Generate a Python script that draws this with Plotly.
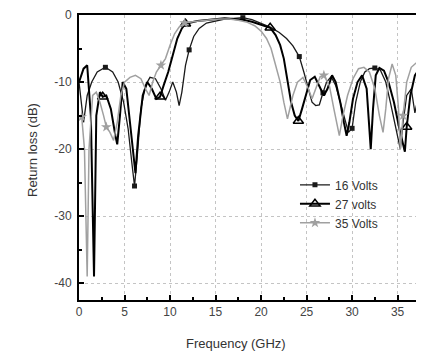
import plotly.graph_objects as go

# ---------------- data ----------------
f16 = [0.0, 0.5, 0.9, 1.4, 2.0, 2.9, 3.7, 4.3, 4.9, 5.4, 5.8, 6.1, 6.4, 6.8, 7.3, 7.8,
       8.4, 9.0, 9.5, 9.9, 10.3, 10.7, 11.0, 11.3, 11.7, 12.1, 12.6, 13.2, 14.0, 15.0,
       16.0, 17.0, 18.0, 19.0, 20.0, 21.0, 22.0, 22.8, 23.5, 24.2, 24.7, 25.2, 25.6,
       26.0, 26.4, 26.8, 27.2, 27.7, 28.2, 28.7, 29.2, 29.6, 30.0, 30.4, 30.9, 31.4,
       31.9, 32.5, 33.1, 33.7, 34.2, 34.8, 35.3, 35.6, 36.0, 36.5, 36.9, 37.3, 37.9]
rl16 = [-10.0, -16.0, -12.0, -10.0, -8.5, -7.8, -8.5, -10.0, -13.0, -17.0, -22.0, -25.5,
        -21.0, -14.0, -10.5, -9.3, -9.5, -11.0, -12.7, -11.5, -10.0, -11.5, -13.5, -11.5,
        -7.5, -5.2, -3.2, -2.0, -1.2, -0.9, -0.6, -0.5, -0.4, -0.7, -1.2, -1.8, -2.6,
        -3.5, -4.6, -6.2, -8.5, -11.0, -13.0, -13.5, -13.4, -11.6, -10.0, -9.2, -10.5,
        -13.0, -15.5, -17.5, -16.9, -13.0, -10.0, -8.5, -8.0, -7.9, -8.2, -10.0, -13.0,
        -17.0, -20.0, -16.0, -12.0, -11.0, -14.6, -12.0, -10.0]
mk16 = [2.9, 6.1, 12.1, 18.0, 24.2, 26.8, 30.0, 32.5]

f27 = [0.0, 0.5, 0.9, 1.3, 1.65, 1.9, 2.3, 2.6, 3.0, 3.5, 4.0, 4.2, 4.5, 4.8, 5.2, 5.6,
       6.0, 6.2, 6.5, 7.0, 7.5, 8.0, 8.5, 8.9, 9.3, 9.8, 10.3, 10.8, 11.3, 11.7, 13.0,
       14.0, 15.0, 16.0, 17.0, 18.0, 19.0, 20.0, 21.0, 21.6, 22.1, 22.5, 22.9, 23.3,
       23.7, 24.1, 24.5, 25.0, 25.4, 25.9, 26.4, 26.9, 27.3, 27.8, 28.2, 28.7, 29.1,
       29.4, 29.7, 30.1, 30.6, 31.1, 31.6, 31.9, 32.05, 32.3, 32.6, 33.0, 33.5, 34.0,
       34.6, 35.2, 35.8, 36.0, 36.4, 36.9, 37.3, 37.9]
rl27 = [-10.0, -8.0, -7.5, -15.0, -39.0, -15.0, -11.5, -12.2, -12.0, -14.0, -18.0, -19.3,
        -15.0, -10.0, -11.0, -16.0, -22.0, -23.6, -18.0, -12.0, -10.0, -11.0, -12.5,
        -12.2, -10.5, -8.5, -6.0, -3.5, -2.0, -1.3, -0.9, -0.8, -0.6, -0.5, -0.6, -0.7,
        -1.0, -1.4, -1.9, -3.0, -4.5, -6.5, -10.0, -13.0, -15.0, -15.8, -14.0, -11.5,
        -9.7, -9.2, -10.5, -12.0, -11.0, -9.0, -10.0, -13.0, -16.0, -18.0, -16.0, -12.5,
        -10.0, -9.0, -11.0, -17.0, -20.0, -14.0, -9.0, -7.9, -8.3, -10.0, -13.0, -17.0,
        -20.4, -16.7, -12.0, -9.0, -8.2, -9.0]
mk27 = [2.6, 8.9, 11.7, 21.0, 24.1, 36.0]

f35 = [0.0, 0.3, 0.6, 0.9, 1.1, 1.5, 1.9, 2.3, 2.7, 3.0, 3.4, 3.8, 4.2, 4.6, 5.0, 5.6,
       6.2, 6.8, 7.3, 7.7, 8.1, 8.5, 9.0, 9.5, 10.0, 10.5, 11.0, 11.6, 12.5, 13.5, 14.5,
       15.5, 16.5, 17.5, 18.5, 19.3, 20.0, 20.6, 21.1, 21.6, 22.1, 22.5, 22.9, 23.5,
       24.0, 24.6, 25.2, 25.6, 26.0, 26.5, 26.9, 27.5, 28.0, 28.6, 29.0, 29.5, 30.1,
       30.7, 31.3, 31.9, 32.5, 33.0, 33.4, 33.7, 34.0, 34.4, 34.8, 35.1, 35.3, 35.6,
       36.0, 36.5, 37.0, 37.5, 37.9]
rl35 = [-15.0, -15.2, -20.0, -39.0, -20.0, -12.0, -11.5, -13.0, -15.0, -16.7, -17.5,
        -18.7, -16.0, -12.0, -10.0, -9.3, -9.0, -9.5, -11.0, -12.0, -10.0, -8.5, -7.5,
        -6.5, -4.5, -2.8, -1.8, -1.2, -1.0, -0.8, -0.7, -0.6, -0.6, -0.8, -1.1, -1.6,
        -2.4, -3.5, -5.0, -7.5, -10.0, -13.0, -15.5, -12.0, -10.0, -9.3, -11.0, -12.5,
        -11.0, -9.2, -9.0, -10.5, -14.0, -18.0, -15.0, -12.0, -9.5, -8.0, -7.8, -8.5,
        -11.0, -15.0, -17.5, -14.0, -9.5, -7.3, -9.0, -14.0, -20.0, -15.0, -10.0, -7.8,
        -7.2, -7.3, -8.0]
mk35 = [0.3, 3.0, 9.0, 11.6, 26.9, 35.6]

x_ticks = [0, 5, 10, 15, 20, 25, 30, 35]
x_ticklabels = ["0", "5", "10", "15", "20", "25", "30", "35"]
y_ticks = [0, -10, -20, -30, -40]
y_ticklabels = ["0", "-10", "-20", "-30", "-40"]

names = ["16 Volts", "27 volts", "35 Volts"]

# ---------------- figure ----------------
FONT = "Liberation Sans, Arial, sans-serif"
fig = go.Figure()


def add_series(fx, fy, marks, name, color, lw, symbol, msize, mline):
    sel = [i for i, v in enumerate(fx) if v in marks]
    fig.add_trace(go.Scatter(
        x=fx, y=fy, name=name, mode="lines+markers",
        line=dict(color=color, width=lw),
        marker=dict(symbol=symbol, size=msize, color=color,
                    line=dict(color=color, width=mline)),
        selectedpoints=sel,
        selected=dict(marker=dict(opacity=1)),
        unselected=dict(marker=dict(opacity=0)),
    ))


add_series(f16, rl16, mk16, names[0], "#1a1a1a", 1.3, "square", 5, 0)
add_series(f27, rl27, mk27, names[1], "#000000", 2.0, "triangle-up-open", 9, 1.5)
add_series(f35, rl35, mk35, names[2], "#a0a0a0", 1.5, "star", 8, 0)

# page body has an 8px offset, so the figure is 8px smaller than the window
OFF = 8
W, H = 424 - OFF, 354 - OFF
L, R, T, B = 79 - OFF, 0, 15 - OFF, 54
PW, PH = W - L - R, H - T - B

fig.update_layout(
    width=W, height=H,
    margin=dict(l=L, r=R, t=T, b=B),
    paper_bgcolor="white", plot_bgcolor="white",
    font=dict(family=FONT, size=12, color="#333333"),
    showlegend=True,
    legend=dict(x=0.626, y=0.455, xanchor="left", yanchor="top",
                bgcolor="rgba(0,0,0,0)", font=dict(size=12, color="#333333"),
                itemwidth=30, tracegroupgap=0),
    xaxis=dict(range=[0, 37.9], tickvals=x_ticks, ticktext=x_ticklabels,
               ticks="inside", ticklen=5, tickwidth=1.5, tickcolor="#000",
               showline=True, linecolor="#000", linewidth=2, mirror=True,
               showgrid=True, gridcolor="#c4c4c4", griddash="dot", gridwidth=1,
               zeroline=False, tickfont=dict(size=12, color="#444"),
               minor=dict(dtick=2.5, tick0=0, ticks="inside", ticklen=3,
                          tickcolor="#000", showgrid=False)),
    yaxis=dict(range=[-42.5, 0], tickvals=y_ticks, ticktext=y_ticklabels,
               ticks="inside", ticklen=5, tickwidth=1.5, tickcolor="#000",
               showline=True, linecolor="#000", linewidth=2, mirror=False,
               showgrid=True, gridcolor="#c4c4c4", griddash="dot", gridwidth=1,
               zeroline=False, tickfont=dict(size=12, color="#444"),
               ticklabelstandoff=3,
               minor=dict(dtick=5, tick0=0, ticks="inside", ticklen=3,
                          tickcolor="#000", showgrid=False)),
    annotations=[
        dict(text="Frequency (GHz)", xref="paper", yref="paper",
             x=(236 - 79) / PW, y=-(343 - 300) / PH,
             xanchor="center", yanchor="middle", showarrow=False,
             font=dict(size=13, color="#333")),
        dict(text="Return loss (dB)", xref="paper", yref="paper",
             x=-(79 - 32) / PW, y=(300 - 150) / PH,
             xanchor="center", yanchor="middle", showarrow=False,
             textangle=-90, font=dict(size=13, color="#333")),
    ],
)

fig.write_html("out.html")
